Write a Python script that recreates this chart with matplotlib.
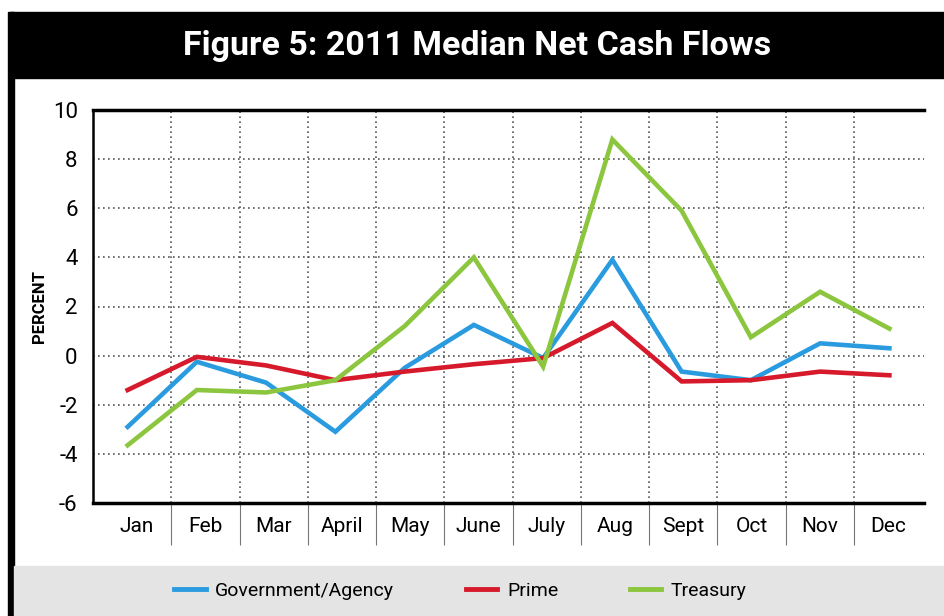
import matplotlib.pyplot as plt
from matplotlib.patches import Rectangle
from matplotlib.lines import Line2D

months = ["Jan", "Feb", "Mar", "April", "May", "June", "July", "Aug", "Sept", "Oct", "Nov", "Dec"]
government = [-2.9, -0.25, -1.1, -3.1, -0.5, 1.25, -0.1, 3.9, -0.65, -1.0, 0.5, 0.3]
prime = [-1.4, -0.05, -0.4, -1.0, -0.65, -0.35, -0.1, 1.33, -1.05, -1.0, -0.65, -0.8]
treasury = [-3.65, -1.4, -1.5, -1.0, 1.2, 4.0, -0.45, 8.8, 5.9, 0.75, 2.6, 1.1]

series = [
    ("Government/Agency", government, "#2b9be0"),
    ("Prime", prime, "#d61a2c"),
    ("Treasury", treasury, "#8cc63f"),
]

plt.rcParams["font.family"] = ["Roboto", "DejaVu Sans"]
plt.rcParams["axes.unicode_minus"] = False

fig = plt.figure(figsize=(9.44, 6.16), dpi=100)

# frame pieces: black title band, left rule, grey legend strip
fig.patches.append(Rectangle((10 / 944, 1 - 78 / 616), 1, 66 / 616,
                             transform=fig.transFigure, color="black", zorder=0))
fig.patches.append(Rectangle((8 / 944, 0), 6 / 944, 1 - 12 / 616,
                             transform=fig.transFigure, color="black", zorder=0))
fig.patches.append(Rectangle((14 / 944, 0), 1, 50 / 616,
                             transform=fig.transFigure, color="#e4e4e4", zorder=0))

fig.text(0.505, 0.925, "Figure 5: 2011 Median Net Cash Flows", color="white",
         fontsize=24.5, fontweight="bold", ha="center", va="center")

ax = fig.add_axes([93 / 944, 1 - 503 / 616, 831 / 944, 393 / 616])
x = list(range(len(months)))
for name, vals, col in series:
    ax.plot(x, vals, color=col, lw=3.3, label=name, solid_joinstyle="miter", zorder=3)

ax.set_xlim(-0.5, 11.5)
ax.set_ylim(-6, 10)
ax.set_yticks(range(-6, 11, 2))
ax.tick_params(axis="y", length=0, labelsize=16, pad=11)

# month labels sit midway between the divider lines
step = 0.986
ax.set_xticks([0.137 + step * i for i in range(12)])
ax.set_xticklabels(months)
ax.set_xticks([0.63 + step * i for i in range(11)], minor=True)
ax.tick_params(axis="x", which="major", length=0, labelsize=15, pad=10)
ax.tick_params(axis="x", which="minor", direction="out", length=30, width=0.8,
               color="#777777")

ax.grid(axis="y", which="major", linestyle=(0, (1, 2)), color="#555555", lw=1.2)
ax.grid(axis="x", which="minor", linestyle=(0, (1, 2)), color="#555555", lw=1.2)
ax.set_axisbelow(True)

ax.spines["right"].set_visible(False)
ax.spines["top"].set_linewidth(2.5)
ax.spines["bottom"].set_linewidth(2.5)
ax.spines["left"].set_linewidth(1.8)

ax.set_ylabel("PERCENT", fontsize=12, fontweight="bold")
ax.yaxis.set_label_coords(-0.055, 0.5)

handles = [Line2D([], [], color=c, lw=3.5) for _, _, c in series]
fig.legend(handles, [n for n, _, _ in series], loc="center", ncol=3,
           bbox_to_anchor=(0.488, 25 / 616), frameon=False, fontsize=14,
           handlelength=1.6, columnspacing=3.7, handletextpad=0.5)

fig.savefig("out.png", dpi=100)
